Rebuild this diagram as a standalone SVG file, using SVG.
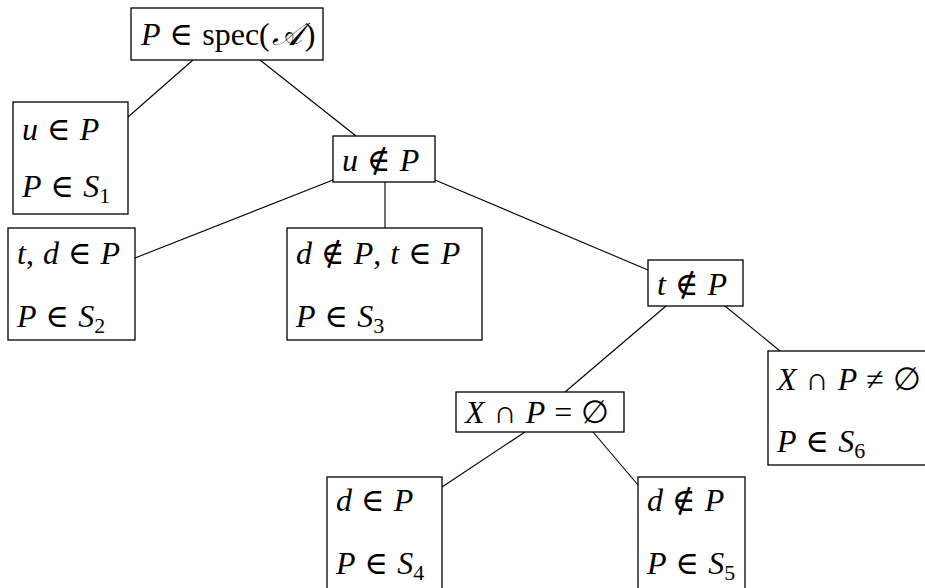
<svg xmlns="http://www.w3.org/2000/svg" width="925" height="588" viewBox="0 0 925 588">
<style>
rect{fill:#fff;stroke:#000;stroke-width:1.3}
line{stroke:#000;stroke-width:1.1}
text{font-family:"Liberation Serif","DejaVu Serif",serif;font-size:32px;fill:#000;word-spacing:1px}
.i{font-style:italic}
.s{font-size:22px}
</style>
<rect x="0" y="0" width="925" height="588" style="stroke:none"/>
<g id="connectors">
<line x1="193" y1="60" x2="128" y2="117"/>
<line x1="260" y1="60" x2="356" y2="136"/>
<line x1="333" y1="180" x2="135" y2="258"/>
<line x1="385" y1="182" x2="385" y2="228"/>
<line x1="435" y1="180" x2="648" y2="270"/>
<line x1="666" y1="306" x2="565" y2="392"/>
<line x1="725" y1="306" x2="780" y2="351"/>
<line x1="525" y1="432" x2="442" y2="487"/>
<line x1="593" y1="432" x2="638" y2="485"/>
</g>
<g id="root"><rect x="131" y="8" width="192" height="52"/>
<text x="141" y="45"><tspan class="i">P</tspan> ∈ spec(<tspan class="i" dx="2">𝒜</tspan><tspan dx="3">)</tspan></text></g>
<g id="n1"><rect x="13" y="102" width="115" height="112"/>
<text x="22" y="140"><tspan class="i">u</tspan> ∈ <tspan class="i">P</tspan></text>
<text x="22" y="197"><tspan class="i">P</tspan> ∈ <tspan class="i">S</tspan><tspan class="s" dy="6">1</tspan></text></g>
<g id="n2"><rect x="333" y="136" width="102" height="46"/>
<text x="342" y="171"><tspan class="i">u</tspan> ∉ <tspan class="i">P</tspan></text></g>
<g id="n3"><rect x="8" y="228" width="127" height="112"/>
<text x="17" y="264"><tspan class="i">t</tspan>, <tspan class="i">d</tspan> ∈ <tspan class="i">P</tspan></text>
<text x="17" y="327"><tspan class="i">P</tspan> ∈ <tspan class="i">S</tspan><tspan class="s" dy="6">2</tspan></text></g>
<g id="n4"><rect x="287" y="228" width="195" height="112"/>
<text x="296" y="264"><tspan class="i">d</tspan> ∉ <tspan class="i">P</tspan>, <tspan class="i">t</tspan> ∈ <tspan class="i">P</tspan></text>
<text x="296" y="327"><tspan class="i">P</tspan> ∈ <tspan class="i">S</tspan><tspan class="s" dy="6">3</tspan></text></g>
<g id="n5"><rect x="648" y="260" width="95" height="46"/>
<text x="657" y="295"><tspan class="i">t</tspan> ∉ <tspan class="i">P</tspan></text></g>
<g id="n6"><rect x="768" y="351" width="180" height="114"/>
<text x="777" y="390"><tspan class="i">X</tspan> ∩ <tspan class="i">P</tspan> ≠ ∅</text>
<text x="777" y="452"><tspan class="i">P</tspan> ∈ <tspan class="i">S</tspan><tspan class="s" dy="6">6</tspan></text></g>
<g id="n7"><rect x="456" y="392" width="168" height="40"/>
<text x="465" y="423"><tspan class="i">X</tspan> ∩ <tspan class="i">P</tspan> = ∅</text></g>
<g id="n8"><rect x="327" y="477" width="115" height="130"/>
<text x="336" y="511"><tspan class="i">d</tspan> ∈ <tspan class="i">P</tspan></text>
<text x="336" y="574"><tspan class="i">P</tspan> ∈ <tspan class="i">S</tspan><tspan class="s" dy="6">4</tspan></text></g>
<g id="n9"><rect x="638" y="477" width="107" height="130"/>
<text x="647" y="511"><tspan class="i">d</tspan> ∉ <tspan class="i">P</tspan></text>
<text x="647" y="574"><tspan class="i">P</tspan> ∈ <tspan class="i">S</tspan><tspan class="s" dy="6">5</tspan></text></g>
</svg>
